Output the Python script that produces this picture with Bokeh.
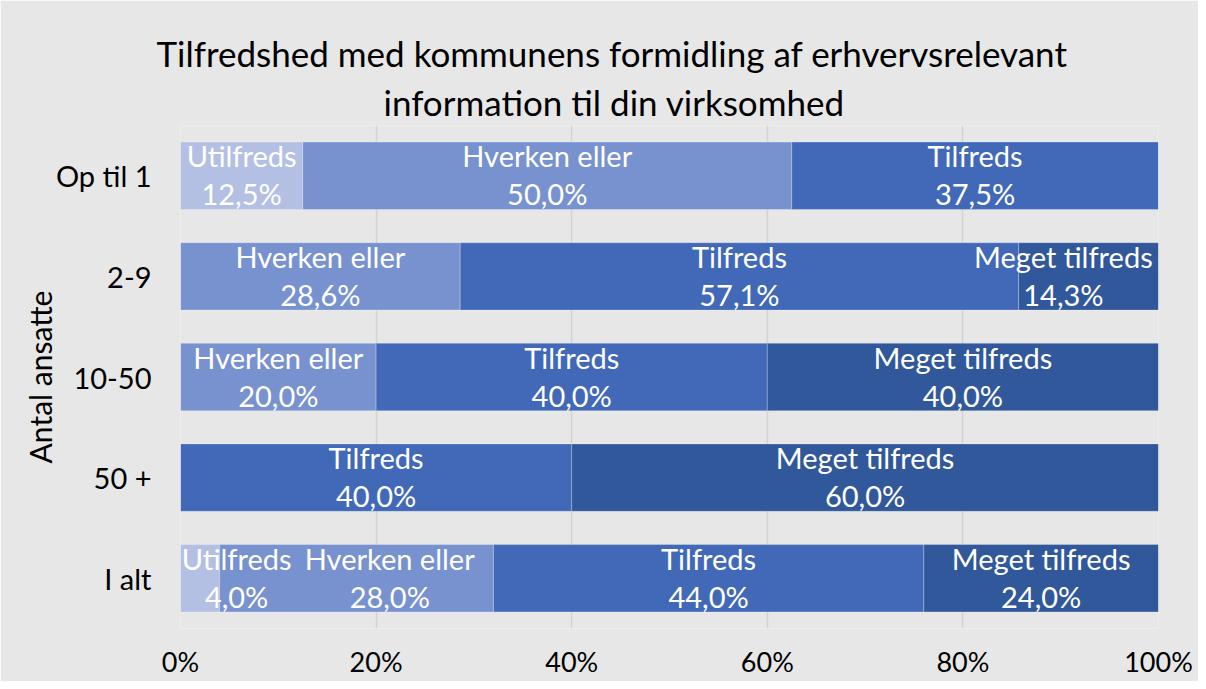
from bokeh.plotting import figure
from bokeh.models import ColumnDataSource, FactorRange, Title, FixedTicker, CustomJSTickFormatter
from bokeh.core.properties import value
from bokeh.embed import file_html
from bokeh.resources import INLINE

categories = ["Op til 1", "2-9", "10-50", "50 +", "I alt"]
series = ["Utilfreds", "Hverken eller", "Tilfreds", "Meget tilfreds"]
utilfreds = [12.5, 0.0, 0.0, 0.0, 4.0]
hverken = [50.0, 28.6, 20.0, 0.0, 28.0]
tilfreds = [37.5, 57.1, 40.0, 40.0, 44.0]
meget = [0.0, 14.3, 40.0, 60.0, 24.0]
colors = ["#b4c0e3", "#7892cf", "#4169b8", "#30589a"]
x_ticks = [0, 20, 40, 60, 80, 100]
title_lines = ["Tilfredshed med kommunens formidling af erhvervsrelevant",
               "information til din virksomhed"]

FONT = "Lato"
BG = "#e7e7e7"
LABEL_PX = 29
FRAME_LEFT, FRAME_RIGHT = 180, 1158

data = {"cat": categories, series[0]: utilfreds, series[1]: hverken,
        series[2]: tilfreds, series[3]: meget}
src = ColumnDataSource(data)

p = figure(width=1198, height=681, output_backend="svg", toolbar_location=None,
           y_range=FactorRange(*reversed(categories)), x_range=(0, 100),
           min_border_left=FRAME_LEFT, min_border_right=1198 - FRAME_RIGHT,
           min_border_top=125, min_border_bottom=53)
p.background_fill_color = BG
p.border_fill_color = BG
p.outline_line_color = None

p.hbar_stack(series, y="cat", height=0.67, color=colors, source=src,
             line_color="white", line_alpha=0.25, line_width=1)

# data labels: centred on the segment, kept inside the plot area and apart
# from the neighbouring label (as the spreadsheet program does)
px_per_unit = (FRAME_RIGHT - FRAME_LEFT) / 100.0
gap = 16 / px_per_unit
lx, ly, ln, lv = [], [], [], []
vals = [utilfreds, hverken, tilfreds, meget]
for i, c in enumerate(categories):
    left = 0.0
    prev_right = None
    for s, arr in zip(series, vals):
        v = arr[i]
        if v > 0:
            half = 0.43 * LABEL_PX * len(s) / 2 / px_per_unit
            cx = left + v / 2
            cx = max(cx, half)
            cx = min(cx, 100 - half - 0.8)
            if prev_right is not None and cx - half < prev_right + gap:
                cx = prev_right + gap + half
            prev_right = cx + half
            lx.append(cx)
            ly.append(c)
            ln.append(s)
            lv.append(("%.1f" % v).replace(".", ",") + "%")
        left += v
lsrc = ColumnDataSource(dict(x=lx, y=ly, name=ln, val=lv))
common = dict(text_color="white", text_font=value(FONT), text_font_size="%dpx" % LABEL_PX,
              text_align="center", text_baseline="middle")
p.text(x="x", y="y", text="name", source=lsrc, y_offset=-20, **common)
p.text(x="x", y="y", text="val", source=lsrc, y_offset=18, **common)

# grid
p.ygrid.grid_line_color = None
p.xgrid.ticker = FixedTicker(ticks=x_ticks)
p.xgrid.grid_line_color = "#d2d2d2"
p.xgrid.grid_line_width = 1.5

# x axis
p.xaxis.ticker = FixedTicker(ticks=x_ticks)
p.xaxis.formatter = CustomJSTickFormatter(code="return tick.toFixed(0) + '%';")
p.xaxis.axis_line_color = None
p.xaxis.major_tick_line_color = None
p.xaxis.minor_tick_line_color = None
p.xaxis.major_tick_out = 0
p.xaxis.major_tick_in = 0
p.xaxis.minor_tick_out = 0
p.xaxis.major_label_standoff = 16
p.xaxis.major_label_text_font = FONT
p.xaxis.major_label_text_font_size = "27px"
p.xaxis.major_label_text_color = "black"

# y axis
p.yaxis.axis_line_color = None
p.yaxis.major_tick_line_color = None
p.yaxis.minor_tick_line_color = None
p.yaxis.major_tick_out = 0
p.yaxis.major_tick_in = 0
p.yaxis.minor_tick_out = 0
p.yaxis.major_label_standoff = 29
p.yaxis.major_label_text_font = FONT
p.yaxis.major_label_text_font_size = "29px"
p.yaxis.major_label_text_color = "black"
p.yaxis.axis_label = "Antal ansatte"
p.yaxis.axis_label_text_font = FONT
p.yaxis.axis_label_text_font_style = "normal"
p.yaxis.axis_label_text_font_size = "30px"
p.yaxis.axis_label_text_color = "black"
p.yaxis.axis_label_standoff = -5

# title: two lines; p.title is the outer one, the added Title sits next to the plot
p.title.text = title_lines[0]
p.title.align = "left"
p.title.offset = -24
p.title.standoff = 4
p.title.text_font = FONT
p.title.text_font_size = "35px"
p.title.text_font_style = "normal"
p.title.text_color = "black"
p.add_layout(Title(text=title_lines[1], align="left", offset=203, standoff=6,
                   text_font=FONT, text_font_size="35px", text_font_style="normal",
                   text_color="black"), "above")

open("out.html", "w").write(file_html(p, INLINE))
